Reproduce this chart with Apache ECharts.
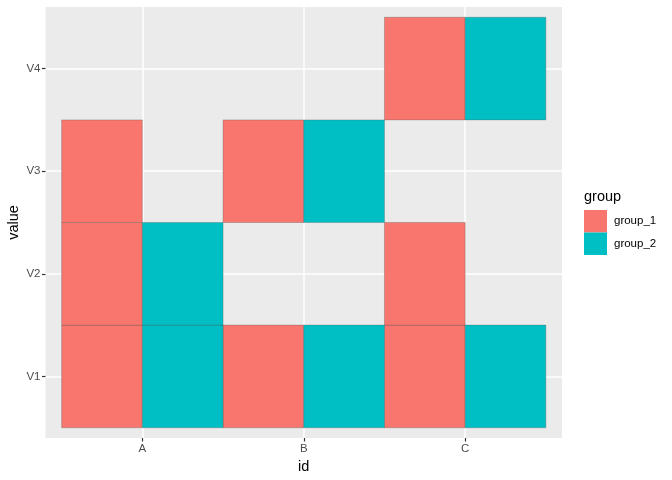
<!DOCTYPE html>
<html>
<head>
<meta charset="utf-8">
<script src="https://cdn.jsdelivr.net/npm/echarts@6/dist/echarts.min.js"></script>
<style>html,body{margin:0;padding:0;background:#fff;}#c{width:672px;height:480px;}</style>
</head>
<body>
<div id="c"></div>
<script>
const idCategories = ['A', 'B', 'C'];
const valueCategories = ['V1', 'V2', 'V3', 'V4'];
const groupNames = ['group_1', 'group_2'];
const groupColors = ['#F8766D', '#00BFC4'];
const group1Cells = [['A','V1'],['A','V2'],['A','V3'],['B','V1'],['B','V3'],['C','V1'],['C','V2'],['C','V4']];
const group2Cells = [['A','V1'],['A','V2'],['B','V1'],['B','V3'],['C','V1'],['C','V4']];

const FONT = '"Liberation Sans", Arial, sans-serif';
const chart = echarts.init(document.getElementById('c'), null, {renderer: 'canvas'});

function toData(cells) {
  return cells.map(c => [idCategories.indexOf(c[0]) + 1, valueCategories.indexOf(c[1]) + 1]);
}

function tileSeries(name, cells, gi) {
  return {
    type: 'custom',
    name: name,
    data: toData(cells),
    itemStyle: {color: groupColors[gi]},
    renderItem: function (params, api) {
      const x = api.value(0), y = api.value(1);
      const x0 = x - 0.5 + gi * 0.5, x1 = x0 + 0.5;
      const p0 = api.coord([x0, y + 0.5]);
      const p1 = api.coord([x1, y - 0.5]);
      return {
        type: 'rect',
        shape: {x: p0[0], y: p0[1], width: p1[0] - p0[0], height: p1[1] - p0[1]},
        style: {fill: groupColors[gi], stroke: 'rgba(90,90,90,0.55)', lineWidth: 0.6}
      };
    }
  };
}

const xTicks = idCategories.map((_, i) => i + 1);
const yTicks = valueCategories.map((_, i) => i + 1);

chart.setOption({
  animation: false,
  backgroundColor: '#ffffff',
  grid: {left: 45.5, right: 110, top: 7, bottom: 42, show: true, backgroundColor: '#EBEBEB', borderWidth: 0, containLabel: false, outerBoundsMode: 'none'},
  title: {text: 'group', left: 584, top: 189, padding: 0, textStyle: {fontFamily: FONT, fontSize: 14.5, fontWeight: 'normal', color: '#000'}},
  legend: {
    orient: 'vertical', left: 584, top: 210, padding: 0, itemWidth: 23, itemHeight: 22.5, itemGap: 0,
    icon: 'rect',
    data: groupNames.map((n, i) => ({name: n, itemStyle: {color: groupColors[i], borderWidth: 0}})),
    textStyle: {fontFamily: FONT, fontSize: 11.5, color: '#000', padding: [0, 0, 0, 2]}
  },
  xAxis: {
    type: 'value', min: 0.4, max: 3.6,
    name: 'id', nameLocation: 'middle', nameGap: 21, nameMoveOverlap: false,
    nameTextStyle: {fontFamily: FONT, fontSize: 14.5, color: '#000'},
    axisLine: {show: false},
    axisTick: {show: true, length: 3.5, lineStyle: {color: '#333333', width: 1.2}, customValues: xTicks},
    axisLabel: {customValues: xTicks, formatter: v => idCategories[Math.round(v) - 1] || '', fontFamily: FONT, fontSize: 11.5, color: '#4D4D4D', margin: 5},
    splitLine: {show: true, lineStyle: {color: '#ffffff', width: 1.5}}
  },
  yAxis: {
    type: 'value', min: 0.4, max: 4.6,
    name: 'value', nameLocation: 'middle', nameGap: 24, nameRotate: 90, nameMoveOverlap: false,
    nameTextStyle: {fontFamily: FONT, fontSize: 14.5, color: '#000'},
    axisLine: {show: false},
    axisTick: {show: true, length: 3.5, lineStyle: {color: '#333333', width: 1.2}, customValues: yTicks},
    axisLabel: {customValues: yTicks, formatter: v => valueCategories[Math.round(v) - 1] || '', fontFamily: FONT, fontSize: 11.5, color: '#4D4D4D', margin: 5},
    splitLine: {show: true, lineStyle: {color: '#ffffff', width: 1.5}}
  },
  series: [
    tileSeries(groupNames[0], group1Cells, 0),
    tileSeries(groupNames[1], group2Cells, 1)
  ]
});
</script>
</body>
</html>
